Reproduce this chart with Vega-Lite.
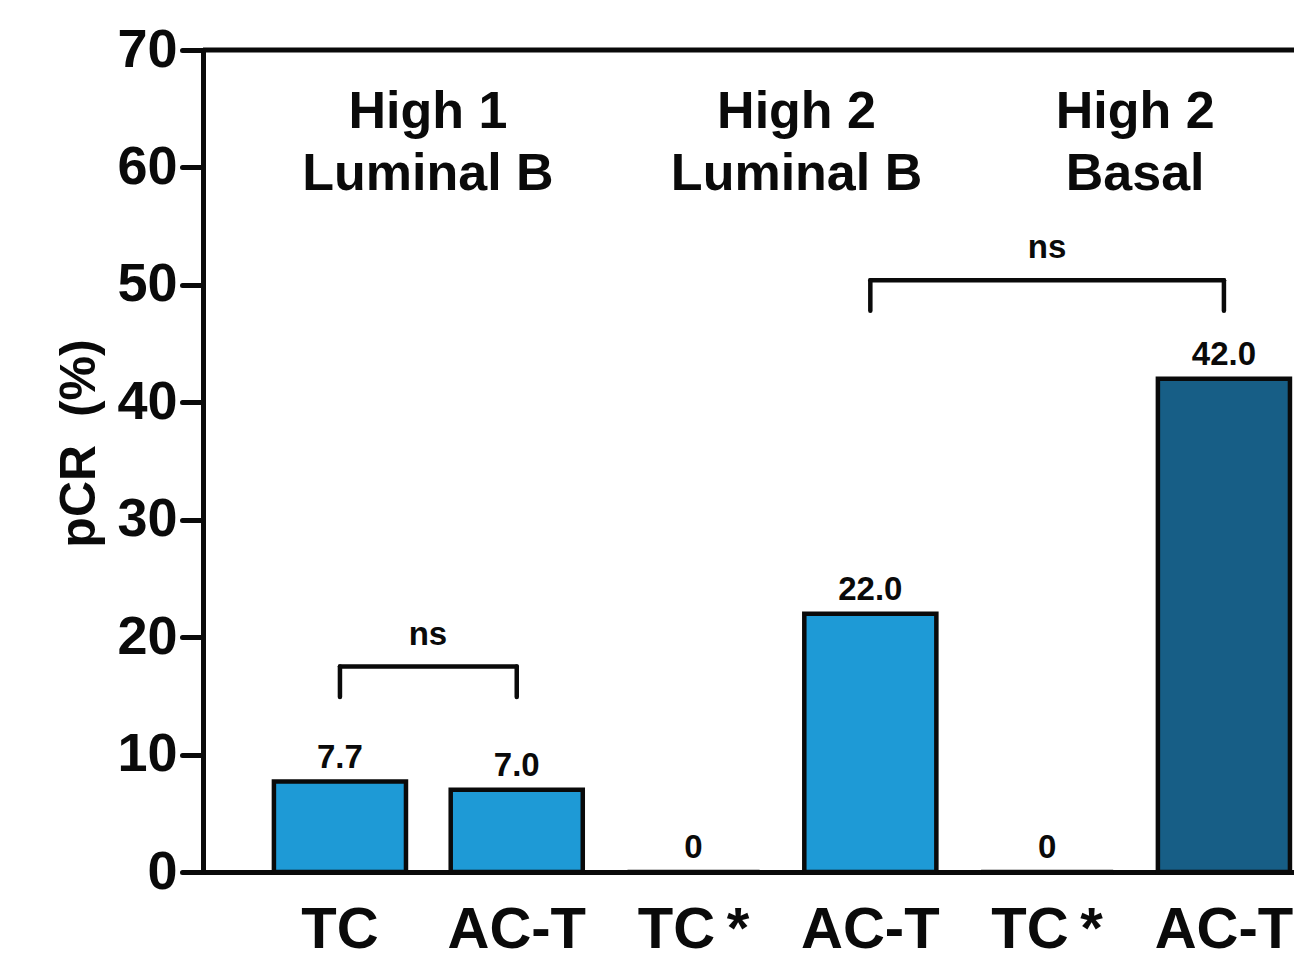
{
  "$schema": "https://vega.github.io/schema/vega-lite/v6.json",
  "width": 1091,
  "height": 822,
  "autosize": {"type": "none"},
  "padding": {"left": 203, "top": 50, "right": 0, "bottom": 83},
  "background": "white",
  "config": {"view": {"stroke": null}, "font": "Liberation Sans"},
  "datasets": {
    "bars": [
      {"cat": "TC|1", "value": 7.7, "label": "7.7", "subtype": "Luminal B"},
      {"cat": "AC-T|1", "value": 7.0, "label": "7.0", "subtype": "Luminal B"},
      {"cat": "TC\u2009*|2", "value": 0, "label": "0", "subtype": "Luminal B"},
      {"cat": "AC-T|2", "value": 22.0, "label": "22.0", "subtype": "Luminal B"},
      {"cat": "TC\u2009*|3", "value": 0, "label": "0", "subtype": "Basal"},
      {"cat": "AC-T|3", "value": 42.0, "label": "42.0", "subtype": "Basal"}
    ],
    "brackets": [
      {"cat": "TC|1", "cat2": "AC-T|1", "value": 17.5, "value2": 17.5},
      {"cat": "TC|1", "cat2": "TC|1", "value": 14.9, "value2": 17.5},
      {"cat": "AC-T|1", "cat2": "AC-T|1", "value": 14.9, "value2": 17.5},
      {"cat": "AC-T|2", "cat2": "AC-T|3", "value": 50.4, "value2": 50.4},
      {"cat": "AC-T|2", "cat2": "AC-T|2", "value": 47.8, "value2": 50.4},
      {"cat": "AC-T|3", "cat2": "AC-T|3", "value": 47.8, "value2": 50.4}
    ],
    "groups": [
      {"cat": "TC|1", "title": ["High 1", "Luminal B"], "value": 63.4},
      {"cat": "TC\u2009*|2", "title": ["High 2", "Luminal B"], "value": 63.4},
      {"cat": "TC\u2009*|3", "title": ["High 2", "Basal"], "value": 63.4}
    ],
    "ns": [
      {"cat": "TC|1", "text": "ns", "value": 19.3},
      {"cat": "TC\u2009*|3", "text": "ns", "value": 52.3}
    ],
    "top": [{"value": 70}]
  },
  "encoding": {
    "x": {
      "field": "cat", "type": "nominal", "sort": null,
      "scale": {"type": "band", "domain": ["TC|1", "AC-T|1", "TC\u2009*|2", "AC-T|2", "TC\u2009*|3", "AC-T|3"], "paddingInner": 0.253, "paddingOuter": 0.212, "align": 0.946},
      "axis": {
        "title": null, "labelExpr": "split(datum.value, '|')[0]", "labelAngle": 0,
        "labelFont": "Liberation Sans", "labelFontWeight": "bold", "labelFontSize": 58, "labelColor": "#0a0a0a",
        "ticks": false, "tickSize": 0, "labelPadding": 29,
        "domainColor": "#0a0a0a", "domainWidth": 5, "domainCap": "round"
      }
    },
    "y": {
      "field": "value", "type": "quantitative",
      "scale": {"domain": [0, 70], "nice": false},
      "axis": {
        "title": "pCR\u00a0\u00a0(%)", "titleFont": "Liberation Sans", "titleFontWeight": "bold", "titleFontSize": 50, "titleColor": "#0a0a0a", "titlePadding": 12, "titleY": 393,
        "values": [0, 10, 20, 30, 40, 50, 60, 70], "grid": false,
        "labelFont": "Liberation Sans", "labelFontWeight": "bold", "labelFontSize": 54, "labelColor": "#0a0a0a", "labelPadding": 5,
        "tickSize": 21, "tickWidth": 5, "tickColor": "#0a0a0a", "tickCap": "round",
        "domainColor": "#0a0a0a", "domainWidth": 5, "domainCap": "round"
      }
    }
  },
  "layer": [
    {
      "data": {"name": "bars"},
      "mark": {"type": "bar", "stroke": "#0a0a0a", "strokeWidth": 4.5},
      "encoding": {
        "color": {
          "field": "subtype", "type": "nominal",
          "scale": {"domain": ["Luminal B", "Basal"], "range": ["#1E9AD6", "#175E86"]},
          "legend": null
        }
      }
    },
    {
      "data": {"name": "top"},
      "mark": {"type": "rule", "strokeWidth": 5, "color": "#0a0a0a"},
      "encoding": {"x": null}
    },
    {
      "data": {"name": "bars"},
      "mark": {"type": "text", "font": "Liberation Sans", "fontWeight": "bold", "fontSize": 33, "baseline": "alphabetic", "dy": -14, "color": "#0a0a0a"},
      "encoding": {"text": {"field": "label"}}
    },
    {
      "data": {"name": "brackets"},
      "mark": {"type": "rule", "strokeWidth": 4.5, "strokeCap": "round", "color": "#0a0a0a"},
      "encoding": {
        "x2": {"field": "cat2"},
        "y2": {"field": "value2"}
      }
    },
    {
      "data": {"name": "ns"},
      "transform": [{"filter": "datum.cat == 'TC|1'"}],
      "mark": {"type": "text", "font": "Liberation Sans", "fontWeight": "bold", "fontSize": 33, "baseline": "alphabetic", "dx": 88, "color": "#0a0a0a"},
      "encoding": {"text": {"field": "text"}}
    },
    {
      "data": {"name": "ns"},
      "transform": [{"filter": "datum.cat != 'TC|1'"}],
      "mark": {"type": "text", "font": "Liberation Sans", "fontWeight": "bold", "fontSize": 33, "baseline": "alphabetic", "color": "#0a0a0a"},
      "encoding": {"text": {"field": "text"}}
    },
    {
      "data": {"name": "groups"},
      "transform": [{"filter": "datum.cat != 'TC\u2009*|2'"}],
      "mark": {"type": "text", "font": "Liberation Sans", "fontWeight": "bold", "fontSize": 52, "baseline": "alphabetic", "lineHeight": 62, "dx": 88, "color": "#0a0a0a"},
      "encoding": {"text": {"field": "title"}}
    },
    {
      "data": {"name": "groups"},
      "transform": [{"filter": "datum.cat == 'TC\u2009*|2'"}],
      "mark": {"type": "text", "font": "Liberation Sans", "fontWeight": "bold", "fontSize": 52, "baseline": "alphabetic", "lineHeight": 62, "dx": 103, "color": "#0a0a0a"},
      "encoding": {"text": {"field": "title"}}
    }
  ]
}
